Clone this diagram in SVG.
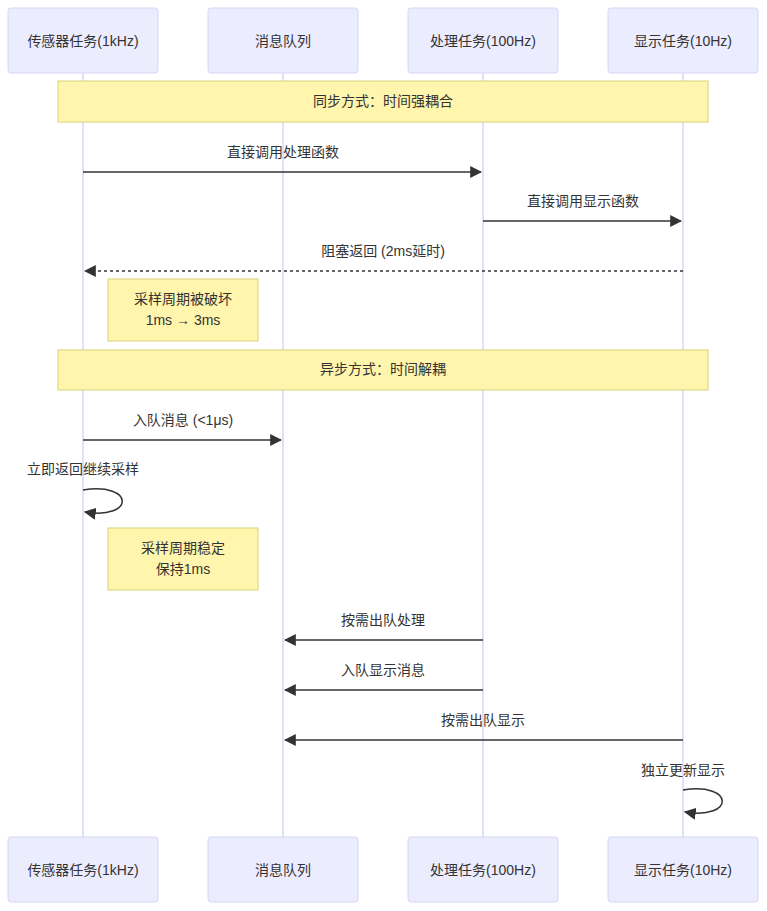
<svg xmlns="http://www.w3.org/2000/svg" width="767" height="911" viewBox="0 0 767 911">
<style>
text{font-family:"Liberation Sans","Noto Sans CJK SC",sans-serif;font-size:14px;fill:#333;text-anchor:middle;dominant-baseline:central}
.actor{fill:#ECECFF;stroke:#D6D6F5;stroke-width:1}
.life{stroke:#D6D6F5;stroke-width:1.5}
.note{fill:#FFF5AD;stroke:#D8D27A;stroke-width:1}
.msg{stroke:#333;stroke-width:1.5;fill:none}
</style>
<defs>
<marker id="ah" viewBox="0 0 10 10" refX="9" refY="5" markerWidth="8" markerHeight="8" orient="auto"><path d="M0,0L10,5L0,10z" fill="#333"/></marker>
</defs>
<g id="lifelines">
<line class="life" x1="83" y1="73" x2="83" y2="837"/>
<line class="life" x1="283" y1="73" x2="283" y2="837"/>
<line class="life" x1="483" y1="73" x2="483" y2="837"/>
<line class="life" x1="683" y1="73" x2="683" y2="837"/>
</g>
<g id="sensor"><rect class="actor" x="8" y="8" width="150" height="65" rx="3"/><text x="83" y="41">传感器任务(1kHz)</text>
<rect class="actor" x="8" y="837" width="150" height="65" rx="3"/><text x="83" y="870">传感器任务(1kHz)</text></g>
<g id="queue"><rect class="actor" x="208" y="8" width="150" height="65" rx="3"/><text x="283" y="41">消息队列</text>
<rect class="actor" x="208" y="837" width="150" height="65" rx="3"/><text x="283" y="870">消息队列</text></g>
<g id="proc"><rect class="actor" x="408" y="8" width="150" height="65" rx="3"/><text x="483" y="41">处理任务(100Hz)</text>
<rect class="actor" x="408" y="837" width="150" height="65" rx="3"/><text x="483" y="870">处理任务(100Hz)</text></g>
<g id="disp"><rect class="actor" x="608" y="8" width="150" height="65" rx="3"/><text x="683" y="41">显示任务(10Hz)</text>
<rect class="actor" x="608" y="837" width="150" height="65" rx="3"/><text x="683" y="870">显示任务(10Hz)</text></g>
<g id="note1"><rect class="note" x="58" y="81" width="650" height="41"/><text x="383" y="101">同步方式：时间强耦合</text></g>
<g id="note2"><rect class="note" x="108" y="279" width="150" height="62"/><text x="183" y="299">采样周期被破坏</text><text x="183" y="320">1ms → 3ms</text></g>
<g id="note3"><rect class="note" x="58" y="350" width="650" height="40"/><text x="383" y="369">异步方式：时间解耦</text></g>
<g id="note4"><rect class="note" x="108" y="528" width="150" height="62"/><text x="183" y="548">采样周期稳定</text><text x="183" y="569">保持1ms</text></g>
<g id="connectors">
<line class="msg" x1="83" y1="172" x2="481" y2="172" marker-end="url(#ah)"/><text x="283" y="152">直接调用处理函数</text>
<line class="msg" x1="483" y1="221" x2="681" y2="221" marker-end="url(#ah)"/><text x="583" y="201">直接调用显示函数</text>
<line class="msg" x1="683" y1="271" x2="85" y2="271" stroke-dasharray="3,3" marker-end="url(#ah)"/><text x="383" y="251">阻塞返回 (2ms延时)</text>
<line class="msg" x1="83" y1="440" x2="281" y2="440" marker-end="url(#ah)"/><text x="183" y="420">入队消息 (&lt;1μs)</text>
<path class="msg" d="M83,490 C135,482 135,520 85,512" marker-end="url(#ah)"/><text x="83" y="469">立即返回继续采样</text>
<line class="msg" x1="483" y1="640" x2="285" y2="640" marker-end="url(#ah)"/><text x="383" y="620">按需出队处理</text>
<line class="msg" x1="483" y1="690" x2="285" y2="690" marker-end="url(#ah)"/><text x="383" y="670">入队显示消息</text>
<line class="msg" x1="683" y1="740" x2="285" y2="740" marker-end="url(#ah)"/><text x="483" y="720">按需出队显示</text>
<path class="msg" d="M683,790 C735,782 735,820 685,812" marker-end="url(#ah)"/><text x="683" y="770">独立更新显示</text>
</g>
</svg>
